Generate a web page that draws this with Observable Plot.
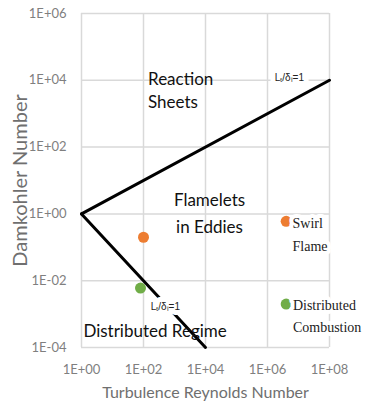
<!DOCTYPE html>
<html><head><meta charset="utf-8">
<script src="https://cdn.jsdelivr.net/npm/d3@7"></script>
<script src="https://cdn.jsdelivr.net/npm/@observablehq/plot@0.6"></script>
<style>body{margin:0;background:#fff;} svg{display:block;}</style>
</head><body><div id="chart"></div>
<script>
const xTicks = [1, 1e2, 1e4, 1e6, 1e8];
const yTicks = [1e-4, 1e-2, 1, 1e2, 1e4, 1e6];

const upperRe = [1, 1e8];
const upperDa = [1, 1e4];
const lowerRe = [1, 1e4];
const lowerDa = [1, 1e-4];

const pointRe = [100, 80, 4e6, 4e6];
const pointDa = [0.2, 0.006, 0.6, 0.002];
const pointColor = ["#ed7d31", "#70ad47", "#ed7d31", "#70ad47"];

const startText = ["Reaction\nSheets", "Distributed Regime"];
const startRe = [140, 1.15];
const startDa = [5500, 3.5e-4];
const midText = ["Flamelets\nin Eddies"];
const midRe = [13500];
const midDa = [1.25];

const caseText = ["Swirl\nFlame", "Distributed\nCombustion"];
const caseRe = [6.4e6, 6.6e6];
const caseDa = [0.28, 1e-3];

const ltText = ["Lₜ/δₗ=1", "Lₜ/δₗ=1"];
const ltRe = [1.7e6, 170];
const ltDa = [1.2e4, 1.7e-3];

const fmt = d => { const e = Math.round(Math.log10(d)); return "1E" + (e < 0 ? "-" : "+") + String(Math.abs(e)).padStart(2, "0"); };

const upper = upperRe.map((x, i) => ({x, y: upperDa[i]}));
const lower = lowerRe.map((x, i) => ({x, y: lowerDa[i]}));
const pts = pointRe.map((x, i) => ({x, y: pointDa[i], c: pointColor[i]}));
const starts = startText.map((t, i) => ({t, x: startRe[i], y: startDa[i]}));
const mids = midText.map((t, i) => ({t, x: midRe[i], y: midDa[i]}));
const cases = caseText.map((t, i) => ({t, x: caseRe[i], y: caseDa[i]}));
const lts = ltText.map((t, i) => ({t, x: ltRe[i], y: ltDa[i]}));

const chart = Plot.plot({
  width: 372, height: 410,
  marginLeft: 81, marginRight: 43, marginTop: 13, marginBottom: 63,
  style: {fontFamily: "Lato, sans-serif", background: "#fff"},
  x: {type: "log", domain: [1, 1e8]},
  y: {type: "log", domain: [1e-4, 1e6]},
  marks: [
    Plot.gridX(xTicks, {stroke: "#d9d9d9", strokeOpacity: 1, strokeWidth: 1.5}),
    Plot.gridY(yTicks, {stroke: "#d9d9d9", strokeOpacity: 1, strokeWidth: 1.5}),
    Plot.axisX(xTicks, {tickFormat: fmt, tickSize: 0, tickPadding: 17, fontSize: 13, fill: "#7f7f7f",
      label: "Turbulence Reynolds Number", labelAnchor: "center", labelArrow: "none", labelOffset: 50}),
    Plot.axisY(yTicks, {tickFormat: fmt, tickSize: 0, tickPadding: 15, fontSize: 13, fill: "#7f7f7f",
      label: "Damkohler Number", labelAnchor: "center", labelArrow: "none", labelOffset: 69}),
    Plot.line(upper, {x: "x", y: "y", stroke: "#000", strokeWidth: 3}),
    Plot.line(lower, {x: "x", y: "y", stroke: "#000", strokeWidth: 3}),
    Plot.text(lts, {x: "x", y: "y", text: "t", textAnchor: "start", fontSize: 10, fill: "#222",
      fontFamily: "Liberation Sans, sans-serif", stroke: "#fff", strokeWidth: 10}),
    Plot.dot(pts, {x: "x", y: "y", fill: "c", r: 5.5}),
    Plot.text(starts, {x: "x", y: "y", text: "t", textAnchor: "start", fontSize: 17, fill: "#111", lineHeight: 1.4}),
    Plot.text(mids, {x: "x", y: "y", text: "t", textAnchor: "middle", fontSize: 17, fill: "#111", lineHeight: 1.6}),
    Plot.text(cases, {x: "x", y: "y", text: "t", textAnchor: "start", fontSize: 14, fill: "#222",
      fontFamily: "Liberation Serif, serif", lineHeight: 1.6, stroke: "#fff", strokeWidth: 8})
  ]
});
chart.querySelectorAll("[aria-label='x-axis label'] text").forEach(t => {
  t.setAttribute("fill", "#6f6f6f"); t.style.fontSize = "16px";
});
chart.querySelectorAll("[aria-label='y-axis label'] text").forEach(t => {
  t.setAttribute("fill", "#6f6f6f"); t.style.fontSize = "20px";
});
document.getElementById("chart").append(chart);
</script>
</body></html>
